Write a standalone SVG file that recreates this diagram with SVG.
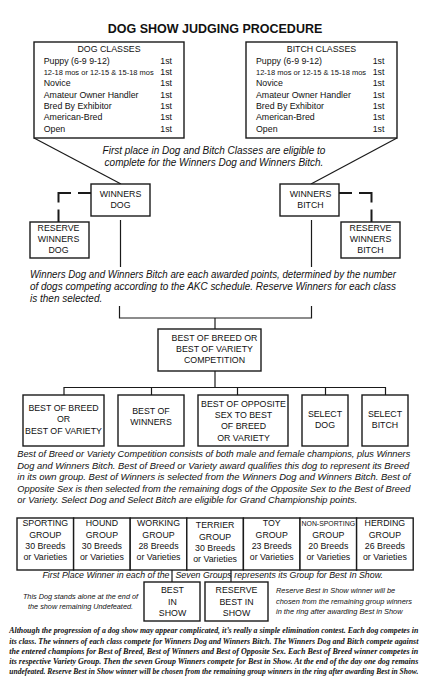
<svg xmlns="http://www.w3.org/2000/svg" width="431" height="694" viewBox="0 0 431 694">
<style>
 text { font-family: "Liberation Sans", Arial, sans-serif; fill:#111; }
 .box { fill:#fff; stroke:#1a1a1a; stroke-width:1.4; }
 .lbl { font-size:8.8px; text-anchor:middle; }
 .cls { font-size:8.8px; }
 .sm { font-size:7.5px; }
 .it { font-style:italic; }
 .ctr { text-anchor:middle; }
 .con { stroke:#1a1a1a; stroke-width:1.2; fill:none; }
 .dash { stroke:#1a1a1a; stroke-width:2; fill:none; stroke-dasharray:13 7 22 7 13; }
 .serif { font-family:"Liberation Serif", "Times New Roman", serif; font-weight:bold; font-style:italic; font-size:8.6px; }
</style>
<rect x="0" y="0" width="431" height="694" fill="#fff"/>

<text x="215" y="33" class="ctr" style="font-size:12.5px;font-weight:bold">DOG SHOW JUDGING PROCEDURE</text>

<g id="connectors">
 <path class="con" d="M34,138 L121,184"/>
 <path class="con" d="M397,138 L311,184"/>
 <path class="dash" d="M91,193 H58.5 V222"/>
 <path class="dash" d="M339,193 H371.5 V222"/>
 <path class="con" d="M120.5,220 V267"/>
 <path class="con" d="M311.5,220 V267"/>
 <path class="con" d="M119.5,306 V318 H311.5 V306"/>
 <path class="con" d="M215,318 V329"/>
 <path class="con" d="M215,371 V387.5"/>
 <path class="con" d="M64,395 V387.5 H385.5 V395"/>
 <path class="con" d="M151.5,387.5 V395"/>
 <path class="con" d="M237.5,387.5 V395"/>
 <path class="con" d="M325.5,387.5 V395"/>
 <path class="con" d="M172,570 V582"/>
 <path class="con" d="M231,570 V582"/>
</g>

<g id="dog-classes">
 <rect class="box" x="34" y="42" width="150" height="96"/>
 <text class="lbl" x="109" y="52">DOG CLASSES</text>
 <text class="cls" x="43.7" y="64">Puppy (6-9 9-12)</text>
 <text class="sm" x="43.7" y="75">12-18 mos or 12-15 &amp; 15-18 mos</text>
 <text class="cls" x="43.7" y="86.3">Novice</text>
 <text class="cls" x="43.7" y="97.7">Amateur Owner Handler</text>
 <text class="cls" x="43.7" y="109">Bred By Exhibitor</text>
 <text class="cls" x="43.7" y="120.3">American-Bred</text>
 <text class="cls" x="43.7" y="131.5">Open</text>
 <text class="cls" x="160.3" y="64">1st</text>
 <text class="cls" x="160.3" y="75">1st</text>
 <text class="cls" x="160.3" y="86.3">1st</text>
 <text class="cls" x="160.3" y="97.7">1st</text>
 <text class="cls" x="160.3" y="109">1st</text>
 <text class="cls" x="160.3" y="120.3">1st</text>
 <text class="cls" x="160.3" y="131.5">1st</text>
</g>

<g id="bitch-classes">
 <rect class="box" x="246" y="42" width="151" height="96"/>
 <text class="lbl" x="321.5" y="52">BITCH CLASSES</text>
 <text class="cls" x="256" y="64">Puppy (6-9 9-12)</text>
 <text class="sm" x="256" y="75">12-18 mos or 12-15 &amp; 15-18 mos</text>
 <text class="cls" x="256" y="86.3">Novice</text>
 <text class="cls" x="256" y="97.7">Amateur Owner Handler</text>
 <text class="cls" x="256" y="109">Bred By Exhibitor</text>
 <text class="cls" x="256" y="120.3">American-Bred</text>
 <text class="cls" x="256" y="131.5">Open</text>
 <text class="cls" x="372.7" y="64">1st</text>
 <text class="cls" x="372.7" y="75">1st</text>
 <text class="cls" x="372.7" y="86.3">1st</text>
 <text class="cls" x="372.7" y="97.7">1st</text>
 <text class="cls" x="372.7" y="109">1st</text>
 <text class="cls" x="372.7" y="120.3">1st</text>
 <text class="cls" x="372.7" y="131.5">1st</text>
</g>

<g id="note-eligible" class="it" style="font-size:10px">
 <text class="ctr" x="214" y="154">First place in Dog and Bitch Classes are eligible to</text>
 <text class="ctr" x="214" y="165.7">complete for the Winners Dog and Winners Bitch.</text>
</g>

<g id="winners-dog">
 <rect class="box" x="91" y="184" width="59" height="32"/>
 <text class="lbl" x="120.5" y="196.7">WINNERS</text>
 <text class="lbl" x="120.5" y="208.3">DOG</text>
</g>
<g id="reserve-winners-dog">
 <rect class="box" x="30" y="222" width="59" height="36"/>
 <text class="lbl" x="58.5" y="230.5">RESERVE</text>
 <text class="lbl" x="58.5" y="241.8">WINNERS</text>
 <text class="lbl" x="58.5" y="253.3">DOG</text>
</g>
<g id="winners-bitch">
 <rect class="box" x="280" y="184" width="59" height="32"/>
 <text class="lbl" x="310.5" y="196.7">WINNERS</text>
 <text class="lbl" x="310.5" y="208.3">BITCH</text>
</g>
<g id="reserve-winners-bitch">
 <rect class="box" x="341" y="222" width="59" height="36"/>
 <text class="lbl" x="370.5" y="230.5">RESERVE</text>
 <text class="lbl" x="370.5" y="241.8">WINNERS</text>
 <text class="lbl" x="370.5" y="253.3">BITCH</text>
</g>

<g id="note-points" class="it" style="font-size:10px">
 <text x="30" y="278.3" textLength="366" lengthAdjust="spacingAndGlyphs">Winners Dog and Winners Bitch are each awarded points, determined by the number</text>
 <text x="30" y="290" textLength="366" lengthAdjust="spacingAndGlyphs">of dogs competing according to the AKC schedule. Reserve Winners for each class</text>
 <text x="30" y="301.5">is then selected.</text>
</g>

<g id="bob-competition">
 <rect class="box" x="158" y="329" width="103" height="42"/>
 <text class="lbl" x="214.5" y="340.7">BEST OF BREED OR</text>
 <text class="lbl" x="214.5" y="352">BEST OF VARIETY</text>
 <text class="lbl" x="214.5" y="363.3">COMPETITION</text>
</g>

<g id="best-of-breed">
 <rect class="box" x="23" y="395" width="81" height="51"/>
 <text class="lbl" x="63.5" y="410.7">BEST OF BREED</text>
 <text class="lbl" x="63.5" y="422.3">OR</text>
 <text class="lbl" x="63.5" y="434">BEST OF VARIETY</text>
</g>
<g id="best-of-winners">
 <rect class="box" x="118" y="395" width="66" height="51"/>
 <text class="lbl" x="151" y="414">BEST OF</text>
 <text class="lbl" x="151" y="425">WINNERS</text>
</g>
<g id="best-opposite-sex">
 <rect class="box" x="198" y="395" width="90" height="51"/>
 <text class="lbl" x="243.5" y="406.7">BEST OF OPPOSITE</text>
 <text class="lbl" x="243.5" y="418">SEX TO BEST</text>
 <text class="lbl" x="243.5" y="429.3">OF BREED</text>
 <text class="lbl" x="243.5" y="440.7">OR VARIETY</text>
</g>
<g id="select-dog">
 <rect class="box" x="302" y="395" width="46" height="51"/>
 <text class="lbl" x="325" y="416.7">SELECT</text>
 <text class="lbl" x="325" y="427.5">DOG</text>
</g>
<g id="select-bitch">
 <rect class="box" x="362" y="395" width="46" height="51"/>
 <text class="lbl" x="385" y="416.7">SELECT</text>
 <text class="lbl" x="385" y="427.5">BITCH</text>
</g>

<g id="note-bob" class="it" style="font-size:9.3px">
 <text x="17.3" y="457.3" textLength="393" lengthAdjust="spacingAndGlyphs">Best of Breed or Variety Competition consists of both male and female champions, plus Winners</text>
 <text x="17.3" y="468.8" textLength="392" lengthAdjust="spacingAndGlyphs">Dog and Winners Bitch. Best of Breed or Variety award qualifies this dog to represent its Breed</text>
 <text x="17.3" y="480.3" textLength="393" lengthAdjust="spacingAndGlyphs">in its own group. Best of Winners is selected from the Winners Dog and Winners Bitch. Best of</text>
 <text x="17.3" y="491.8" textLength="393" lengthAdjust="spacingAndGlyphs">Opposite Sex is then selected from the remaining dogs of the Opposite Sex to the Best of Breed</text>
 <text x="17.3" y="503.3" textLength="340" lengthAdjust="spacingAndGlyphs">or Variety.  Select Dog and Select Bitch are eligible for Grand Championship points.</text>
</g>

<g id="sporting-group">
 <rect class="box" x="17" y="518" width="56.6" height="52"/>
 <text class="lbl" x="45.3" y="526">SPORTING</text>
 <text class="lbl" x="45.3" y="537.5">GROUP</text>
 <text class="lbl" x="45.3" y="549">30 Breeds</text>
 <text class="lbl" x="45.3" y="560.3">or Varieties</text>
</g>
<g id="hound-group">
 <rect class="box" x="73.6" y="518" width="56.6" height="52"/>
 <text class="lbl" x="101.9" y="526">HOUND</text>
 <text class="lbl" x="101.9" y="537.5">GROUP</text>
 <text class="lbl" x="101.9" y="549">30 Breeds</text>
 <text class="lbl" x="101.9" y="560.3">or Varieties</text>
</g>
<g id="working-group">
 <rect class="box" x="130.2" y="518" width="56.6" height="52"/>
 <text class="lbl" x="158.5" y="526">WORKING</text>
 <text class="lbl" x="158.5" y="537.5">GROUP</text>
 <text class="lbl" x="158.5" y="549">28 Breeds</text>
 <text class="lbl" x="158.5" y="560.3">or Varieties</text>
</g>
<g id="terrier-group">
 <rect class="box" x="186.8" y="518" width="56.6" height="52"/>
 <text class="lbl" x="215.1" y="528">TERRIER</text>
 <text class="lbl" x="215.1" y="539.5">GROUP</text>
 <text class="lbl" x="215.1" y="551">30 Breeds</text>
 <text class="lbl" x="215.1" y="562.3">or Varieties</text>
</g>
<g id="toy-group">
 <rect class="box" x="243.4" y="518" width="56.6" height="52"/>
 <text class="lbl" x="271.7" y="526">TOY</text>
 <text class="lbl" x="271.7" y="537.5">GROUP</text>
 <text class="lbl" x="271.7" y="549">23 Breeds</text>
 <text class="lbl" x="271.7" y="560.3">or Varieties</text>
</g>
<g id="non-sporting-group">
 <rect class="box" x="300" y="518" width="56.6" height="52"/>
 <text class="lbl" x="328.3" y="526" style="font-size:6.9px">NON-SPORTING</text>
 <text class="lbl" x="328.3" y="537.5">GROUP</text>
 <text class="lbl" x="328.3" y="549">20 Breeds</text>
 <text class="lbl" x="328.3" y="560.3">or Varieties</text>
</g>
<g id="herding-group">
 <rect class="box" x="356.6" y="518" width="56.6" height="52"/>
 <text class="lbl" x="384.9" y="526">HERDING</text>
 <text class="lbl" x="384.9" y="537.5">GROUP</text>
 <text class="lbl" x="384.9" y="549">26 Breeds</text>
 <text class="lbl" x="384.9" y="560.3">or Varieties</text>
</g>

<g id="note-groups" class="it" style="font-size:8.8px">
 <text x="169.5" y="578.3" text-anchor="end">First Place Winner in each of the</text>
 <text x="175.5" y="578.3">Seven Groups</text>
 <text x="234.3" y="578.3">represents its Group for Best In Show.</text>
</g>

<g id="best-in-show">
 <rect class="box" x="144" y="582" width="56" height="39"/>
 <text class="lbl" x="172.5" y="592.5">BEST</text>
 <text class="lbl" x="172.5" y="604.5">IN</text>
 <text class="lbl" x="172.5" y="616">SHOW</text>
</g>
<g id="reserve-best-in-show">
 <rect class="box" x="205" y="582" width="63" height="39"/>
 <text class="lbl" x="236.5" y="592.5">RESERVE</text>
 <text class="lbl" x="236.5" y="604.5">BEST IN</text>
 <text class="lbl" x="236.5" y="616">SHOW</text>
</g>

<g id="note-undefeated" class="it ctr" style="font-size:7.3px">
 <text x="80.5" y="598.5">This Dog stands alone at the end of</text>
 <text x="80.5" y="608.8">the show remaining Undefeated.</text>
</g>
<g id="note-reserve" class="it" style="font-size:7.4px">
 <text x="276" y="592.8">Reserve Best in Show winner will be</text>
 <text x="276" y="603.6">chosen from the remaining group winners</text>
 <text x="276" y="614.4">in the ring after awarding Best in Show</text>
</g>

<g id="summary" transform="scale(0.88,1)">
 <text class="serif" x="10.57" y="633.3" textLength="464.8" lengthAdjust="spacingAndGlyphs">Although the progression of a dog show may appear complicated, it’s really a simple elimination contest. Each dog competes in</text>
 <text class="serif" x="10.57" y="643.6" textLength="464.8" lengthAdjust="spacingAndGlyphs">its class. The winners of each class compete for Winners Dog and Winners Bitch. The Winners Dog and Bitch compete against</text>
 <text class="serif" x="10.57" y="653.9" textLength="464.8" lengthAdjust="spacingAndGlyphs">the entered champions for Best of Breed, Best of Winners and Best of Opposite Sex. Each Best of Breed winner competes in</text>
 <text class="serif" x="10.57" y="664.2" textLength="464.8" lengthAdjust="spacingAndGlyphs">its respective Variety Group. Then the seven Group Winners compete for Best in Show. At the end of the day one dog remains</text>
 <text class="serif" x="10.57" y="674.5" textLength="464.8" lengthAdjust="spacingAndGlyphs">undefeated. Reserve Best in Show winner will be chosen from the remaining group winners in the ring after awarding Best in Show.</text>
</g>
</svg>
